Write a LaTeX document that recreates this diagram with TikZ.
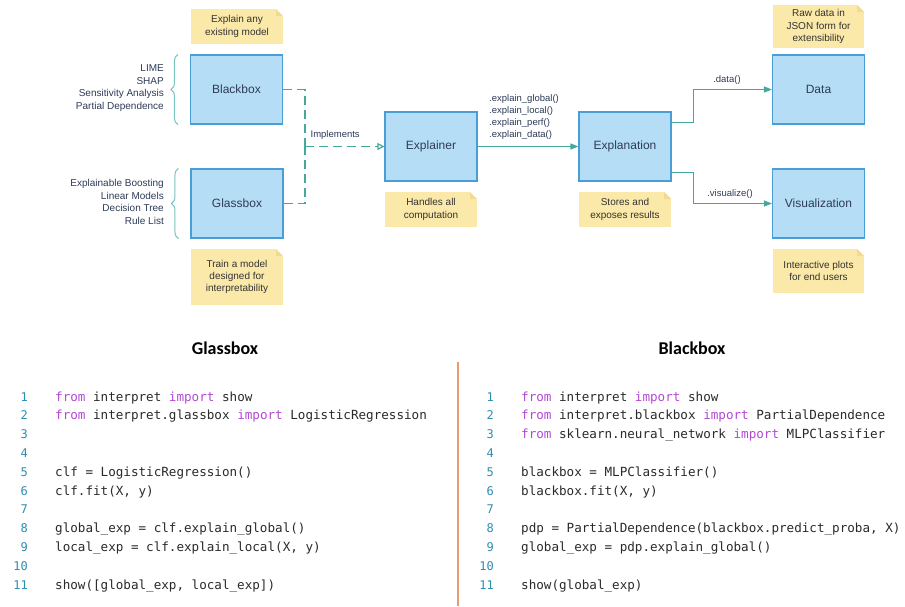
\documentclass[tikz,border=0pt]{standalone}
\usepackage{fontspec}
\setmainfont{Liberation Sans}
\newfontfamily\codefont{DejaVu Sans Mono}
\newfontfamily\headfont{Carlito}
\usetikzlibrary{calc,arrows.meta,decorations.pathreplacing}
\definecolor{boxfill}{HTML}{B5DDF5}
\definecolor{boxline}{HTML}{4A9ED8}
\definecolor{notefill}{HTML}{FBE9A9}
\definecolor{notefold}{HTML}{F2DA92}
\definecolor{navy}{HTML}{2E3B58}
\definecolor{darktext}{HTML}{333333}
\definecolor{teal}{HTML}{45A89C}
\definecolor{bracecol}{HTML}{7CC4BE}
\definecolor{kw}{HTML}{B348D4}
\definecolor{lnum}{HTML}{2C8FB0}
\definecolor{codetext}{HTML}{2A2A2A}
\definecolor{orangeline}{HTML}{E89A70}
\tikzset{
  box/.style={draw=boxline, fill=boxfill, line width=1.1pt, minimum width=92pt,
    minimum height=69pt, font=\fontsize{12}{14}\selectfont, text=navy},
  note/.style={fill=notefill, minimum width=92pt, inner sep=2pt, align=center,
    font=\fontsize{10}{12.3}\selectfont, text=darktext,
    path picture={
      \fill[white] ($(path picture bounding box.north east)+(-7pt,0pt)$) --
        (path picture bounding box.north east) --
        ($(path picture bounding box.north east)+(0pt,-7pt)$) -- cycle;
      \fill[notefold] ($(path picture bounding box.north east)+(-7pt,0pt)$) --
        ($(path picture bounding box.north east)+(0pt,-7pt)$) --
        ($(path picture bounding box.north east)+(-7pt,-7pt)$) -- cycle;
    }},
  sidelabel/.style={align=right, font=\fontsize{10}{12.5}\selectfont, text=navy, inner sep=0pt},
  conlabel/.style={font=\fontsize{9.5}{12.3}\selectfont, text=navy, inner sep=0pt},
  brace/.style={draw=bracecol, line width=1pt, decorate, decoration={brace, amplitude=7pt}},
  dashconn/.style={draw=teal, line width=1.2pt, dash pattern=on 9pt off 5pt},
  solidconn/.style={draw=teal, line width=1.2pt},
  heading/.style={font=\headfont\bfseries\fontsize{18}{20}\selectfont, text=black},
  code/.style={anchor=base west, inner sep=0pt, font=\codefont\fontsize{12.6}{15}\selectfont, text=codetext},
  lno/.style={anchor=base east, inner sep=0pt, font=\codefont\fontsize{12}{15}\selectfont, text=lnum},
}
\newcommand{\kwd}[1]{\textcolor{kw}{#1}}
\begin{document}
\begin{tikzpicture}[x=1pt,y=-1pt]
\useasboundingbox (0,0) rectangle (905,606);
\fill[white] (0,0) rectangle (905,606);

% boxes
\node[box] (bb) at (236.5,89.5) {Blackbox};
\node[box] (gb) at (237,203.5) {Glassbox};
\node[box] (ex) at (431,146.5) {Explainer};
\node[box] (en) at (625,146.5) {Explanation};
\node[box] (da) at (818.5,89.5) {Data};
\node[box] (vi) at (818.5,203.5) {Visualization};

% notes
\node[note, minimum height=35pt] (n1) at (237,26.5) {Explain any\\existing model};
\node[note, minimum height=56pt] (n2) at (237,277) {Train a model\\designed for\\interpretability};
\node[note, minimum height=35pt] (n3) at (431,209.5) {Handles all\\computation};
\node[note, minimum height=35pt] (n4) at (625,209.5) {Stores and\\exposes results};
\node[note, minimum height=43pt, minimum width=91pt] (n5) at (818.5,26.5) {Raw data in\\JSON form for\\extensibility};
\node[note, minimum height=44pt, minimum width=91pt] (n6) at (818.5,271) {Interactive plots\\for end users};

% braces and side labels
\draw[brace] ($(bb.south west)+(-12,0)$) -- ($(bb.north west)+(-12,0)$);
\draw[brace] ($(gb.south west)+(-12,0)$) -- ($(gb.north west)+(-12,0)$);
\node[sidelabel, anchor=east] (bl) at (164,88) {LIME\\SHAP\\Sensitivity Analysis\\Partial Dependence};
\node[sidelabel, anchor=east] (gl) at (164,202) {Explainable Boosting\\Linear Models\\Decision Tree\\Rule List};

% dashed connectors
\coordinate (jn) at (305,146.5);
\draw[dashconn] (bb.east) -| (jn);
\draw[dashconn] (gb.east) -| (jn);
\draw[dashconn, -{Triangle[open, length=7pt, width=7pt]}] (jn) -- (ex.west)
  node[conlabel, pos=0.38, above=6pt] (impl) {Implements};

% solid connectors
\draw[solidconn, -{Triangle[length=8pt, width=6pt]}] (ex.east) -- (en.west);
\node[conlabel, anchor=north west, align=left] (meth) at (489,94)
  {.explain\_global()\\.explain\_local()\\.explain\_perf()\\.explain\_data()};
\draw[solidconn, -{Triangle[length=8pt, width=6pt]}] ($(en.north east)+(0,11)$) -- ++(22,0) |- (da.west);
\draw[solidconn, -{Triangle[length=8pt, width=6pt]}] ($(en.south east)+(0,-9)$) -- ++(22,0) |- (vi.west);
\node[conlabel] (dl) at (727,80) {.data()};
\node[conlabel] (vl) at (730,194) {.visualize()};

% lower panels
\node[heading] (h1) at (225,348) {Glassbox};
\node[heading] (h2) at (692,348) {Blackbox};
\coordinate (ot) at (458,362);
\coordinate (ob) at (458,606);
\draw[orangeline, line width=2pt] (ot) -- (ob);

% glassbox code
\node[lno] (a1) at (28,401) {1};
\node[lno] (a2) at (28,419.8) {2};
\node[lno] (a3) at (28,438.6) {3};
\node[lno] (a4) at (28,457.4) {4};
\node[lno] (a5) at (28,476.2) {5};
\node[lno] (a6) at (28,495) {6};
\node[lno] (a7) at (28,513.8) {7};
\node[lno] (a8) at (28,532.6) {8};
\node[lno] (a9) at (28,551.4) {9};
\node[lno] (a10) at (28,570.2) {10};
\node[lno] (a11) at (28,589) {11};
\node[code] (c1) at (55,401) {\kwd{from} interpret \kwd{import} show};
\node[code] (c2) at (55,419.8) {\kwd{from} interpret.glassbox \kwd{import} LogisticRegression};
\node[code] (c5) at (55,476.2) {clf = LogisticRegression()};
\node[code] (c6) at (55,495) {clf.fit(X, y)};
\node[code] (c8) at (55,532.6) {global\_exp = clf.explain\_global()};
\node[code] (c9) at (55,551.4) {local\_exp = clf.explain\_local(X, y)};
\node[code] (c11) at (55,589) {show([global\_exp, local\_exp])};

% blackbox code
\node[lno] (b1) at (494,401) {1};
\node[lno] (b2) at (494,419.8) {2};
\node[lno] (b3) at (494,438.6) {3};
\node[lno] (b4) at (494,457.4) {4};
\node[lno] (b5) at (494,476.2) {5};
\node[lno] (b6) at (494,495) {6};
\node[lno] (b7) at (494,513.8) {7};
\node[lno] (b8) at (494,532.6) {8};
\node[lno] (b9) at (494,551.4) {9};
\node[lno] (b10) at (494,570.2) {10};
\node[lno] (b11) at (494,589) {11};
\node[code] (d1) at (521,401) {\kwd{from} interpret \kwd{import} show};
\node[code] (d2) at (521,419.8) {\kwd{from} interpret.blackbox \kwd{import} PartialDependence};
\node[code] (d3) at (521,438.6) {\kwd{from} sklearn.neural\_network \kwd{import} MLPClassifier};
\node[code] (d5) at (521,476.2) {blackbox = MLPClassifier()};
\node[code] (d6) at (521,495) {blackbox.fit(X, y)};
\node[code] (d8) at (521,532.6) {pdp = PartialDependence(blackbox.predict\_proba, X)};
\node[code] (d9) at (521,551.4) {global\_exp = pdp.explain\_global()};
\node[code] (d11) at (521,589) {show(global\_exp)};
\end{tikzpicture}
\end{document}
